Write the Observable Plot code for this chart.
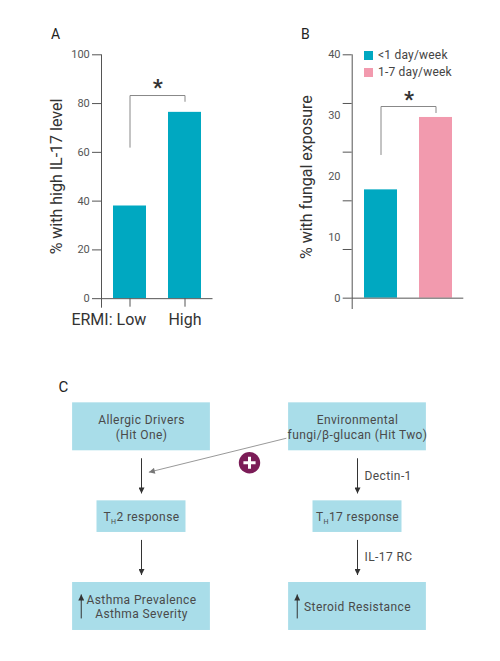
<!DOCTYPE html>
<html><head><meta charset="utf-8">
<script src="https://cdn.jsdelivr.net/npm/d3@7"></script>
<script src="https://cdn.jsdelivr.net/npm/@observablehq/plot@0.6"></script>
<style>
body{margin:0;background:#fff;}
#fig{position:relative;width:500px;height:661px;font-family:Roboto,sans-serif;color:#333;overflow:hidden;background:#fff}
.abs{position:absolute}
.panel{line-height:1;color:#222;font-family:Roboto,sans-serif}
.leg{position:absolute;font-size:12px;line-height:1;color:#444;letter-spacing:0.2px;white-space:nowrap}
.sw{display:inline-block;width:9px;height:9px;margin-right:5px;vertical-align:-1px}
</style></head><body><div id="fig"></div>
<script>
// ---------- Panel A data ----------
const categoriesA = ["Low", "High"];
const valuesA = [38, 76.4];
const ticksA = [0, 20, 40, 60, 80, 100];
const labelA = "% with high IL-17 level";
const axisTitleA = "ERMI:";
// significance bracket A: bar level, left end, right end
const bracketA = [83.3, 62.1, 80.9];

// ---------- Panel B data ----------
const categoriesB = ["<1 day/week", "1-7 day/week"];
const valuesB = [17.8, 29.7];
const colorsB = ["#00a8c1", "#f29aae"];
const tickMarksB = [0, 8, 16, 24, 32, 40];
const tickLabelsB = [0, 10, 20, 30, 40];
const labelB = "% with fungal exposure";
const bracketB = [31.5, 23.6, 30.5];

// ---------- Panel C data ----------
const boxLabels = ["Allergic Drivers\n(Hit One)", "Environmental\nfungi/β-glucan (Hit Two)", "TH2 response", "TH17 response", "Asthma Prevalence\nAsthma Severity", "Steroid Resistance"];
const boxCols = [0, 1, 0, 1, 0, 1];
const boxRows = [0, 0, 1, 1, 2, 2];
const boxKinds = ["wide", "wide", "narrow", "narrow", "wide", "wide"];
const flowCols = [0, 0, 1, 1];
const flowFrom = [0, 1, 0, 1];
const flowTo = [1, 2, 1, 2];
const flowLabels = ["", "", "Dectin-1", "IL-17 RC"];
const upArrowCols = [0, 1];
const crossStart = [0.671, 0.127];
const crossEnd = [0.034, 0.505];
const plusAt = [0.5, 0.40];

const teal = "#00a8c1";
const axisGray = "#555";
const bracketGray = "#888";
const boxFill = "#a9dde9";
const boxText = "#4a4a4a";

const fig = document.getElementById("fig");
function place(node, left, top) {
  node.classList.add("abs");
  node.style.left = left + "px";
  node.style.top = top + "px";
  fig.appendChild(node);
}
function panelLabel(t, left, top, size) {
  const d = document.createElement("div");
  d.className = "panel";
  d.style.fontSize = size + "px";
  d.textContent = t;
  place(d, left, top);
}

// ---------- Panel A ----------
const dataA = categoriesA.map((c, i) => ({cat: c, value: valuesA[i]}));
const bA = [
  {x: categoriesA[0], y: bracketA[1]},
  {x: categoriesA[0], y: bracketA[0]},
  {x: categoriesA[1], y: bracketA[0]},
  {x: categoriesA[1], y: bracketA[2]}
];
const plotA = Plot.plot({
  width: 240, height: 340,
  marginLeft: 101, marginRight: 27.5, marginTop: 54.3, marginBottom: 33.3,
  style: {fontFamily: "Roboto, sans-serif", background: "transparent"},
  x: {type: "band", domain: categoriesA, paddingInner: 0.406, paddingOuter: 0.203, axis: null},
  y: {domain: [-3.5, 100], axis: null},
  marks: [
    Plot.barY(dataA, {x: "cat", y: "value", fill: teal}),
    Plot.axisY({ticks: ticksA, tickSize: 9, tickPadding: 2.7, color: axisGray, fontSize: 11, label: null}),
    Plot.frame({anchor: "left", stroke: axisGray}),
    Plot.ruleY([0], {stroke: axisGray}),
    Plot.ruleX(categoriesA, {y1: 0, y2: -3.5, stroke: axisGray}),
    Plot.text([categoriesA[0]], {x: d => d, y: -3.5, text: d => axisTitleA + " " + d, textAnchor: "end", dx: 16.3, lineAnchor: "top", dy: 6.6, fontSize: 16, fill: "#333"}),
    Plot.text([categoriesA[1]], {x: d => d, y: -3.5, text: d => d, lineAnchor: "top", dy: 6.6, fontSize: 16, fill: "#333"}),
    Plot.text([labelA], {frameAnchor: "left", textAnchor: "middle", lineAnchor: "middle", rotate: -90, dx: -44.8, dy: -4.5, fontSize: 16, fill: "#333"}),
    Plot.line(bA, {x: "x", y: "y", stroke: bracketGray, strokeWidth: 1}),
    Plot.text(["*"], {x: () => categoriesA[0], y: bracketA[0], dx: 27.8, dy: -8, fontSize: 22, fontWeight: "bold", fill: "#333"})
  ]
});
place(plotA, 0, 0);

// ---------- Panel B ----------
const dataB = categoriesB.map((c, i) => ({cat: c, value: valuesB[i]}));
const bB = [
  {x: categoriesB[0], y: bracketB[1]},
  {x: categoriesB[0], y: bracketB[0]},
  {x: categoriesB[1], y: bracketB[0]},
  {x: categoriesB[1], y: bracketB[2]}
];
const plotB = Plot.plot({
  width: 240, height: 340,
  marginLeft: 101.7, marginRight: 26.7, marginTop: 54.3, marginBottom: 32,
  style: {fontFamily: "Roboto, sans-serif", background: "transparent"},
  x: {type: "band", domain: categoriesB, paddingInner: 0.406, paddingOuter: 0.203, axis: null},
  y: {domain: [-1.7, 40], axis: null},
  color: {domain: categoriesB, range: colorsB},
  marks: [
    Plot.barY(dataB, {x: "cat", y: "value", fill: "cat"}),
    Plot.axisY({ticks: tickMarksB, tickSize: 9, tickFormat: () => "", color: axisGray, label: null}),
    Plot.axisY({ticks: tickLabelsB, tickSize: 0, tickPadding: 11.7, color: axisGray, fontSize: 11, label: null}),
    Plot.frame({anchor: "left", stroke: axisGray}),
    Plot.ruleY([0], {stroke: axisGray}),
    Plot.text([labelB], {frameAnchor: "left", textAnchor: "middle", lineAnchor: "middle", rotate: -90, dx: -45.5, dy: -4.5, fontSize: 16, fill: "#333"}),
    Plot.line(bB, {x: "x", y: "y", stroke: bracketGray, strokeWidth: 1}),
    Plot.text(["*"], {x: () => categoriesB[0], y: bracketB[0], dx: 28, dy: -7, fontSize: 22, fontWeight: "bold", fill: "#333"})
  ]
});
place(plotB, 250, 0);

// legend B
categoriesB.forEach((c, i) => {
  const d = document.createElement("div");
  d.className = "leg";
  d.innerHTML = `<span class="sw" style="background:${colorsB[i]}"></span>`;
  d.appendChild(document.createTextNode(c));
  d.style.left = "364px";
  d.style.top = (48.5 + i * 17) + "px";
  fig.appendChild(d);
});

// ---------- Panel C ----------
const HW = {wide: 0.319, narrow: 0.206};
const HH = {wide: 0.267, narrow: 0.176};
const GAP = 0.083;
const boxes = boxLabels.map((l, i) => ({label: l, col: boxCols[i], row: boxRows[i], kind: boxKinds[i]}));
const kindAt = (col, row) => boxes.find(b => b.col === col && b.row === row).kind;
const flows = flowCols.map((c, i) => {
  const y1 = flowFrom[i] + HH[kindAt(c, flowFrom[i])] + GAP;
  const y2 = flowTo[i] - HH[kindAt(c, flowTo[i])] - GAP;
  return {x1: c, x2: c, y1, y2, label: flowLabels[i], mid: (y1 + y2) / 2};
});
const ups = upArrowCols.map(c => ({x1: c - 0.279, x2: c - 0.279, y1: 2 + 0.133, y2: 2 - 0.134}));
const darkArrows = flows.concat(ups);
const crossArrows = [{x1: crossStart[0], y1: crossStart[1], x2: crossEnd[0], y2: crossEnd[1]}];

const plotC = Plot.plot({
  width: 500, height: 281,
  marginLeft: 33, marginRight: 35, marginTop: 1.4, marginBottom: 10.1,
  style: {fontFamily: "Roboto, sans-serif", letterSpacing: "0.4px", background: "transparent"},
  x: {domain: [-0.5, 1.5], axis: null},
  y: {domain: [2.5, -0.5], axis: null},
  marks: [
    Plot.rect(boxes, {x1: d => d.col - HW[d.kind], x2: d => d.col + HW[d.kind], y1: d => d.row - HH[d.kind], y2: d => d.row + HH[d.kind], fill: boxFill}),
    Plot.text(boxes, {x: "col", y: "row", text: "label", fontSize: 12, lineHeight: 1.19, fill: boxText}),
    Plot.link(darkArrows, {x1: "x1", y1: "y1", x2: "x2", y2: "y2", stroke: "#333", strokeWidth: 1}),
    Plot.link(crossArrows, {x1: "x1", y1: "y1", x2: "x2", y2: "y2", stroke: "#999", strokeWidth: 1}),
    Plot.text(flows.filter(f => f.label), {x: "x1", y: "mid", text: "label", textAnchor: "start", dx: 7, fontSize: 12, fill: boxText}),
    Plot.dot([plusAt], {x: d => d[0], y: d => d[1], r: 10.7, fill: "#7b1c57"}),
    Plot.dot([plusAt], {x: d => d[0], y: d => d[1], r: 4, symbol: "plus", stroke: "white", strokeWidth: 3})
  ]
});
// arrowheads + subscripts
(function () {
  const svg = d3.select(plotC);
  const defs = svg.append("defs");
  [["headDark", "#333"], ["headGray", "#777"]].forEach(([id, col]) => {
    defs.append("marker").attr("id", id).attr("viewBox", "0 0 10 10")
      .attr("refX", 10).attr("refY", 5).attr("markerUnits", "userSpaceOnUse")
      .attr("markerWidth", 8).attr("markerHeight", 6).attr("orient", "auto")
      .append("path").attr("d", "M0,0L10,5L0,10Z").attr("fill", col);
  });
  const linkGroups = svg.selectAll('g[aria-label="link"]').nodes();
  d3.select(linkGroups[0]).selectAll("path").attr("marker-end", "url(#headDark)");
  d3.select(linkGroups[1]).selectAll("path").attr("marker-end", "url(#headGray)");
  svg.selectAll("text").each(function () {
    const t = this.textContent;
    const m = /^TH(\d+ response)$/.exec(t);
    if (m && this.children.length === 0) {
      const s = d3.select(this);
      s.text(null);
      s.append("tspan").text("T");
      s.append("tspan").attr("font-size", "7px").attr("dy", "3").text("H");
      s.append("tspan").attr("dy", "-3").text(m[1]);
    }
  });
})();
place(plotC, 0, 380);

panelLabel("A", 51, 26.5, 14);
panelLabel("B", 301, 27, 14);
panelLabel("C", 58.5, 380.3, 15);
</script></body></html>
